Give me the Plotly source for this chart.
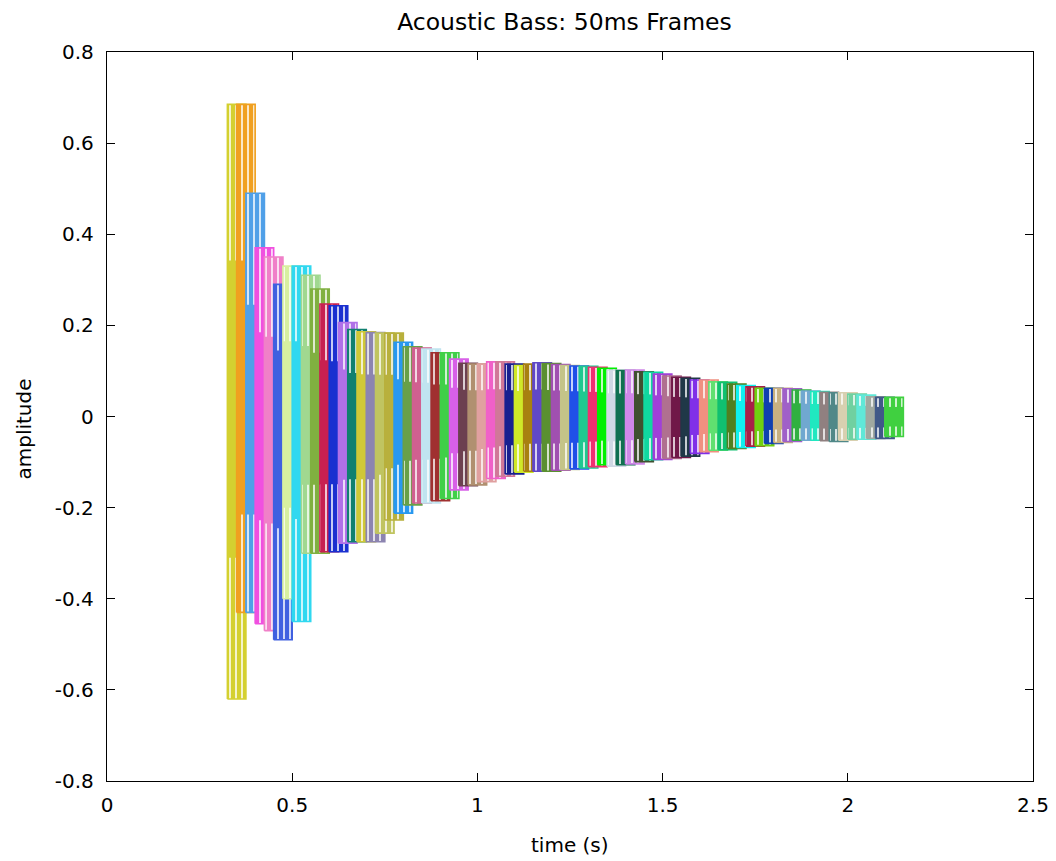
import plotly.graph_objects as go

# 50 ms frames, 25 ms hop; one colour per frame
frame_start = [0.325, 0.35, 0.375, 0.4, 0.425, 0.45, 0.475, 0.5, 0.525, 0.55,
               0.575, 0.6, 0.625, 0.65, 0.675, 0.7, 0.725, 0.75, 0.775, 0.8,
               0.825, 0.85, 0.875, 0.9, 0.925, 0.95, 0.975, 1.0, 1.025, 1.05,
               1.075, 1.1, 1.125, 1.15, 1.175, 1.2, 1.225, 1.25, 1.275, 1.3,
               1.325, 1.35, 1.375, 1.4, 1.425, 1.45, 1.475, 1.5, 1.525, 1.55,
               1.575, 1.6, 1.625, 1.65, 1.675, 1.7, 1.725, 1.75, 1.775, 1.8,
               1.825, 1.85, 1.875, 1.9, 1.925, 1.95, 1.975, 2.0, 2.025, 2.05,
               2.075, 2.1]

frame_max = [0.685, 0.685, 0.49, 0.37, 0.35, 0.29, 0.33, 0.33, 0.31, 0.28,
             0.247, 0.243, 0.206, 0.191, 0.186, 0.184, 0.183, 0.183, 0.163, 0.153,
             0.150, 0.148, 0.140, 0.140, 0.126, 0.117, 0.115, 0.115, 0.120, 0.120,
             0.115, 0.112, 0.115, 0.118, 0.116, 0.114, 0.112, 0.111, 0.110, 0.108,
             0.106, 0.102, 0.101, 0.102, 0.098, 0.097, 0.093, 0.089, 0.086, 0.084,
             0.080, 0.080, 0.076, 0.075, 0.071, 0.068, 0.065, 0.062, 0.062, 0.062,
             0.061, 0.058, 0.056, 0.055, 0.053, 0.052, 0.052, 0.049, 0.047, 0.043,
             0.042, 0.042]

frame_min = [-0.62, -0.43, -0.43, -0.455, -0.47, -0.49, -0.40, -0.45, -0.30, -0.30,
             -0.297, -0.297, -0.278, -0.275, -0.275, -0.275, -0.256, -0.227, -0.212, -0.194,
             -0.19, -0.19, -0.185, -0.18, -0.161, -0.152, -0.150, -0.143, -0.136, -0.131,
             -0.126, -0.122, -0.120, -0.120, -0.120, -0.118, -0.116, -0.115, -0.113, -0.110,
             -0.106, -0.109, -0.106, -0.104, -0.099, -0.095, -0.094, -0.092, -0.090, -0.087,
             -0.081, -0.077, -0.074, -0.073, -0.070, -0.068, -0.065, -0.064, -0.059, -0.057,
             -0.055, -0.052, -0.052, -0.052, -0.053, -0.055, -0.052, -0.050, -0.050, -0.048,
             -0.048, -0.044]

frame_color = ['#d4d030', '#f0a020', '#50a0e8', '#f050e0', '#f080c8', '#4060e0',
               '#d8f0a0', '#30d8f0', '#a0d890', '#80b040', '#c82050', '#1a30d0',
               '#b070e8', '#108070', '#d0c838', '#8c84b0', '#c0c460', '#b8b03c',
               '#2898f0', '#68a048', '#d06090', '#c0e4f0', '#a03030', '#40d048',
               '#d860e8', '#6c4050', '#b09070', '#e0a0a0', '#f060c8', '#d07898',
               '#182090', '#d0e828', '#a88010', '#6048c8', '#5a9030', '#a050b0',
               '#c4c488', '#2050e8', '#20c890', '#f03070', '#00f000', '#d0d8e4',
               '#107050', '#d088e8', '#405030', '#10d8a0', '#a040d8', '#b07090',
               '#701848', '#203848', '#8030e8', '#f09080', '#60e070', '#10c070',
               '#508020', '#10f0f0', '#a82048', '#70d010', '#1040b0', '#c8b080',
               '#a060c8', '#30b040', '#70a8d0', '#20e8c0', '#908080', '#508888',
               '#d8d0b0', '#70d0a0', '#60e8d8', '#a0a8a0', '#405888', '#40d040']

x_ticks = [0, 0.5, 1, 1.5, 2, 2.5]
x_labels = ['0', '0.5', '1', '1.5', '2', '2.5']
y_ticks = [-0.8, -0.6, -0.4, -0.2, 0, 0.2, 0.4, 0.6, 0.8]
y_labels = ['-0.8', '-0.6', '-0.4', '-0.2', '0', '0.2', '0.4', '0.6', '0.8']

frame_len = 0.05
core = 0.5  # dense part of the waveform around zero

fig = go.Figure()
for t0, hi, lo, c in zip(frame_start, frame_max, frame_min, frame_color):
    t1 = t0 + frame_len
    # waveform area with white gaps + frame box
    fig.add_trace(go.Scatter(
        x=[t0, t1, t1, t0, t0], y=[lo, lo, hi, hi, lo],
        mode='lines', fill='toself', fillcolor=c,
        fillpattern=dict(shape='|', fgcolor='white', bgcolor=c, fgopacity=1,
                         size=6, solidity=0.25, fillmode='replace'),
        line=dict(color=c, width=1.6),
        hoverinfo='skip', showlegend=False))
    fig.add_trace(go.Scatter(
        x=[t0, t1, t1, t0, t0], y=[lo * core, lo * core, hi * core, hi * core, lo * core],
        mode='none', fill='toself', fillcolor=c,
        hoverinfo='skip', showlegend=False))

axis_style = dict(showline=True, linecolor='black', linewidth=1.3, mirror='ticks',
                  ticks='inside', ticklen=8, tickwidth=1.3, tickcolor='black',
                  showgrid=False, zeroline=False, automargin=False,
                  tickfont=dict(family='DejaVu Sans', size=20, color='black'))

fig.update_xaxes(range=[0, 2.5], tickvals=x_ticks, ticktext=x_labels,
                 ticklabelstandoff=6, **axis_style)
fig.update_yaxes(range=[-0.8, 0.8], tickvals=y_ticks, ticktext=y_labels,
                 ticklabelstandoff=8, **axis_style)

fig.update_layout(
    width=1056, height=861,
    margin=dict(l=107, r=23, t=52, b=80, autoexpand=False),
    plot_bgcolor='white', paper_bgcolor='white',
    font=dict(family='DejaVu Sans', size=20, color='black'),
    title=dict(text='Acoustic Bass: 50ms Frames', x=0.494, xref='paper',
               y=1 - 22 / 861, yref='container', yanchor='middle',
               font=dict(family='DejaVu Sans', size=23.5, color='black')),
    annotations=[
        dict(text='time (s)', x=0.5, y=-0.088, xref='paper', yref='paper',
             showarrow=False, yanchor='middle', font=dict(size=20)),
        dict(text='amplitude', x=-0.09, y=0.483, xref='paper', yref='paper',
             showarrow=False, textangle=-90, xanchor='center', yanchor='middle',
             font=dict(size=20)),
    ],
)

fig.write_html("out.html", config={'displayModeBar': False},
               post_script="document.body.style.margin='0';")
